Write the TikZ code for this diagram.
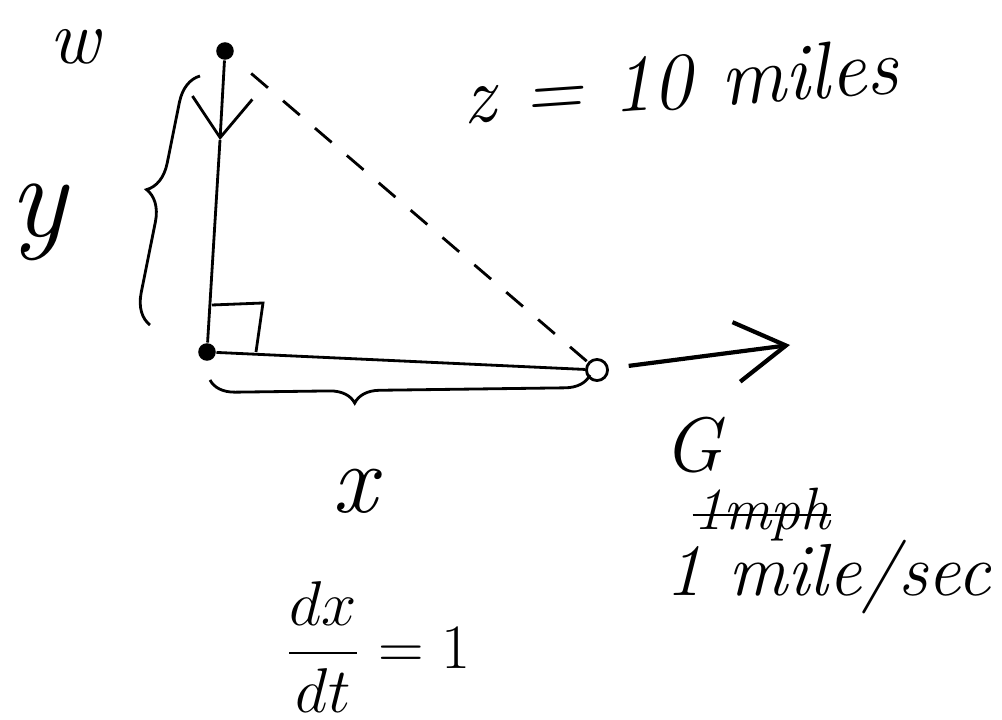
\documentclass[tikz,border=0pt]{standalone}
\usepackage{amsmath}
\usepackage{fix-cm}
\usepackage{tikz}
\usetikzlibrary{arrows.meta,decorations.pathreplacing}

\begin{document}
\begin{tikzpicture}[
  dot/.style={circle,fill,inner sep=0pt,minimum size=5pt},
  hand/.style={inner sep=0pt,font=\itshape}]
  \useasboundingbox (0,0) rectangle (10.02,7.19);
  % the two ends and the corner
  \node[dot] (top) at (2.25,6.68) {};
  \node[dot] (corner) at (2.07,3.67) {};
  \node[circle,draw,thick,inner sep=0pt,minimum size=6pt] (car) at (5.97,3.49) {};
  \coordinate (tip) at (2.20,5.79);
  \coordinate (head) at (7.90,3.74);
  \draw[thick] (tip) -- (corner) -- (car);
  \draw[thick,-{Straight Barb[length=4mm,width=6mm]}] (top) -- (tip);
  \draw[thick,dash pattern=on 0.22cm off 0.2cm,shorten <=0.25cm] (top) -- (car);
  \draw[very thick,shorten <=0.2cm,-{Straight Barb[length=5mm,width=6mm]}] (car) -- (head);
  % right angle
  \draw[thick] (2.12,4.14) -- (2.63,4.16) -- (2.56,3.67);
  % braces
  \draw[thick,decorate,decoration={brace,amplitude=0.3cm,aspect=0.52}]
    (1.50,3.94) -- (2.00,6.43);
  \draw[thick,decorate,decoration={brace,mirror,amplitude=0.25cm,aspect=0.38}]
    (2.10,3.39) -- (5.90,3.44);
  % labels
  \node[hand,font=\fontsize{22}{26}\selectfont\itshape] (wlab) at (0.75,6.72) {w};
  \node[hand,font=\fontsize{34}{38}\selectfont\itshape] (ylab) at (0.38,4.97) {y};
  \node[hand,font=\fontsize{23}{27}\selectfont\itshape,rotate=4] (zlab) at (6.80,6.38) {z = 10 miles};
  \node[hand,font=\fontsize{28}{32}\selectfont\itshape] (xlab) at (3.55,2.28) {x};
  \node[hand,font=\fontsize{22}{26}\selectfont\itshape] (glab) at (6.93,2.74) {G};
  \node[hand,font=\fontsize{17}{21}\selectfont\itshape] (mph) at (7.62,2.04) {1mph};
  \draw[thick] (mph.west) -- (mph.east);
  \node[hand,font=\fontsize{21}{25}\selectfont\itshape] (speed) at (8.28,1.42) {1 mile/sec};
  \node[hand,font=\fontsize{18}{22}\selectfont] (rate) at (3.78,0.72) {$\dfrac{dx}{dt} = 1$};
\end{tikzpicture}
\end{document}
